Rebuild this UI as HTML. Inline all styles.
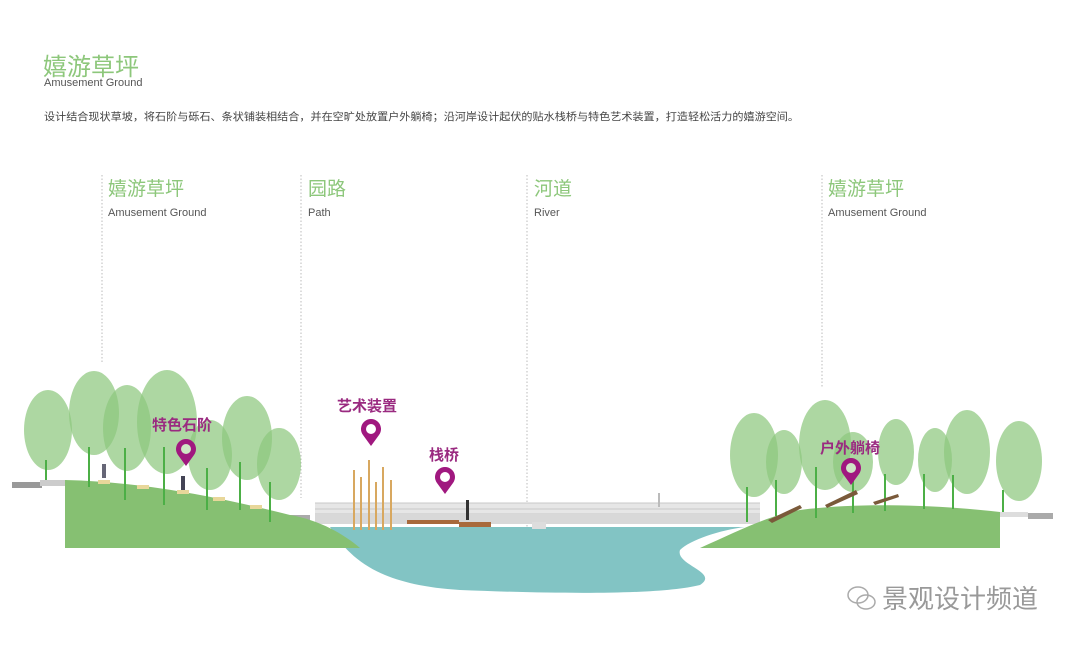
<!DOCTYPE html>
<html><head><meta charset="utf-8"><style>
html,body{margin:0;padding:0;background:#fff;}
svg{display:block;}
text{font-family:"Liberation Sans","Noto Sans CJK SC",sans-serif;}
</style></head><body>
<svg width="1080" height="646" viewBox="0 0 1080 646" xmlns="http://www.w3.org/2000/svg">
<text x="43" y="75" font-size="24" fill="#8dc77b">嬉游草坪</text>
<text x="44" y="86" font-size="11" fill="#555">Amusement Ground</text>
<text x="44" y="120" font-size="10.5" fill="#444" textLength="755" lengthAdjust="spacingAndGlyphs">设计结合现状草坡，将石阶与砾石、条状铺装相结合，并在空旷处放置户外躺椅；沿河岸设计起伏的贴水栈桥与特色艺术装置，打造轻松活力的嬉游空间。</text>

<g stroke="#bbb" stroke-width="1" stroke-dasharray="1.5,2">
<line x1="102" y1="175" x2="102" y2="362"/>
<line x1="301" y1="175" x2="301" y2="498"/>
<line x1="527" y1="175" x2="527" y2="528"/>
<line x1="822" y1="175" x2="822" y2="388"/>
</g>
<g font-size="19" fill="#8dc77b">
<text x="108" y="195">嬉游草坪</text><text x="308" y="195">园路</text>
<text x="534" y="195">河道</text><text x="828" y="195">嬉游草坪</text>
</g>
<g font-size="11" fill="#555">
<text x="108" y="216">Amusement Ground</text><text x="308" y="216">Path</text>
<text x="534" y="216">River</text><text x="828" y="216">Amusement Ground</text>
</g>

<!-- water -->
<path d="M330,527 L745,527 C720,530 690,540 680,550 C675,565 720,572 700,585 C660,595 560,594 460,590 C380,585 350,560 330,527 Z" fill="#82c4c4"/>
<!-- bridge -->
<rect x="315" y="503" width="445" height="21" fill="#e6e6e6"/>
<g stroke="#c8c8c8" stroke-width="1">
<line x1="315" y1="503" x2="760" y2="503"/><line x1="315" y1="509" x2="760" y2="509"/><line x1="315" y1="514" x2="760" y2="514"/>
</g>
<rect x="315" y="514" width="445" height="10" fill="#d8d8d8"/>
<rect x="532" y="522" width="14" height="7" fill="#ddd"/>
<rect x="407" y="520" width="52" height="4" fill="#a86a3c"/>
<rect x="459" y="522" width="32" height="5" fill="#a86a3c"/>
<rect x="466" y="500" width="3" height="20" fill="#333"/>
<rect x="658" y="493" width="2" height="14" fill="#bbb"/>
<g stroke="#d8a860" stroke-width="2">
<line x1="354" y1="470" x2="354" y2="530"/><line x1="361" y1="477" x2="361" y2="530"/><line x1="369" y1="460" x2="369" y2="530"/>
<line x1="376" y1="482" x2="376" y2="530"/><line x1="383" y1="467" x2="383" y2="530"/><line x1="391" y1="480" x2="391" y2="530"/>
</g>

<!-- left trees -->
<g fill="#8ec77e" fill-opacity="0.72">
<ellipse cx="48" cy="430" rx="24" ry="40"/>
<ellipse cx="94" cy="413" rx="25" ry="42"/>
<ellipse cx="127" cy="428" rx="24" ry="43"/>
<ellipse cx="167" cy="422" rx="30" ry="52"/>
<ellipse cx="210" cy="455" rx="22" ry="35"/>
<ellipse cx="247" cy="438" rx="25" ry="42"/>
<ellipse cx="279" cy="464" rx="22" ry="36"/>
</g>
<!-- right trees -->
<g fill="#8ec77e" fill-opacity="0.72">
<ellipse cx="754" cy="455" rx="24" ry="42"/>
<ellipse cx="784" cy="462" rx="18" ry="32"/>
<ellipse cx="825" cy="445" rx="26" ry="45"/>
<ellipse cx="853" cy="462" rx="20" ry="30"/>
<ellipse cx="896" cy="452" rx="18" ry="33"/>
<ellipse cx="935" cy="460" rx="17" ry="32"/>
<ellipse cx="967" cy="452" rx="23" ry="42"/>
<ellipse cx="1019" cy="461" rx="23" ry="40"/>
</g>
<!-- left ground -->
<rect x="12" y="482" width="30" height="6" fill="#999"/>
<rect x="40" y="480" width="27" height="6" fill="#ccc"/>
<rect x="280" y="515" width="30" height="8" fill="#aaa"/>
<path d="M65,480 C150,482 230,500 290,515 C320,520 345,535 360,548 L65,548 Z" fill="#86c072"/>
<!-- right ground -->
<path d="M700,548 C740,530 770,515 800,510 C860,502 940,505 1000,512 L1000,548 Z" fill="#86c072"/>
<rect x="1000" y="512" width="28" height="5" fill="#ddd"/>
<rect x="1028" y="513" width="25" height="6" fill="#aaa"/>

<!-- trunks -->
<g stroke="#4caf46" stroke-width="2">
<line x1="46" y1="460" x2="46" y2="480"/><line x1="89" y1="447" x2="89" y2="487"/><line x1="125" y1="448" x2="125" y2="500"/>
<line x1="164" y1="447" x2="164" y2="505"/><line x1="207" y1="468" x2="207" y2="510"/><line x1="240" y1="462" x2="240" y2="510"/><line x1="270" y1="482" x2="270" y2="522"/>
<line x1="747" y1="487" x2="747" y2="522"/><line x1="776" y1="480" x2="776" y2="516"/><line x1="816" y1="467" x2="816" y2="518"/>
<line x1="853" y1="480" x2="853" y2="513"/><line x1="885" y1="474" x2="885" y2="511"/><line x1="924" y1="474" x2="924" y2="509"/>
<line x1="953" y1="475" x2="953" y2="509"/><line x1="1003" y1="490" x2="1003" y2="512"/>
</g>
<g fill="#e8d79a">
<rect x="98" y="480" width="12" height="4"/><rect x="137" y="485" width="12" height="4"/><rect x="177" y="490" width="12" height="4"/>
<rect x="213" y="497" width="12" height="4"/><rect x="250" y="505" width="12" height="4"/>
</g>
<rect x="102" y="464" width="4" height="14" fill="#667"/>
<rect x="181" y="476" width="4" height="14" fill="#445"/>
<g fill="#7a5a3a"><path d="M768,520 L800,505 L802,508 L772,523 Z"/><path d="M825,505 L856,490 L858,494 L827,508 Z"/><path d="M873,502 L898,494 L899,497 L875,505 Z"/></g>

<!-- pins -->
<g transform="translate(186,452)"><path d="M0,14 L-8,3 A10,10 0 1,1 8,3 Z" fill="#a0187f"/><circle cx="0" cy="-3" r="5" fill="#cfe6c6"/></g>
<g transform="translate(371,432)"><path d="M0,14 L-8,3 A10,10 0 1,1 8,3 Z" fill="#a0187f"/><circle cx="0" cy="-3" r="5" fill="#fff"/></g>
<g transform="translate(445,480)"><path d="M0,14 L-8,3 A10,10 0 1,1 8,3 Z" fill="#a0187f"/><circle cx="0" cy="-3" r="5" fill="#fff"/></g>
<g transform="translate(851,471)"><path d="M0,14 L-8,3 A10,10 0 1,1 8,3 Z" fill="#a0187f"/><circle cx="0" cy="-3" r="5" fill="#cfe6c6"/></g>
<g font-size="15" fill="#9a2a80" font-weight="bold">
<text x="152" y="430">特色石阶</text>
<text x="337" y="411">艺术装置</text>
<text x="429" y="460">栈桥</text>
<text x="820" y="453">户外躺椅</text>
</g>

<text x="882" y="608" font-size="26" fill="#999">景观设计频道</text>
<g fill="none" stroke="#aaa" stroke-width="1.5"><ellipse cx="858" cy="595" rx="10" ry="8"/><ellipse cx="866" cy="602" rx="9" ry="7"/></g>
</svg>
</body></html>
